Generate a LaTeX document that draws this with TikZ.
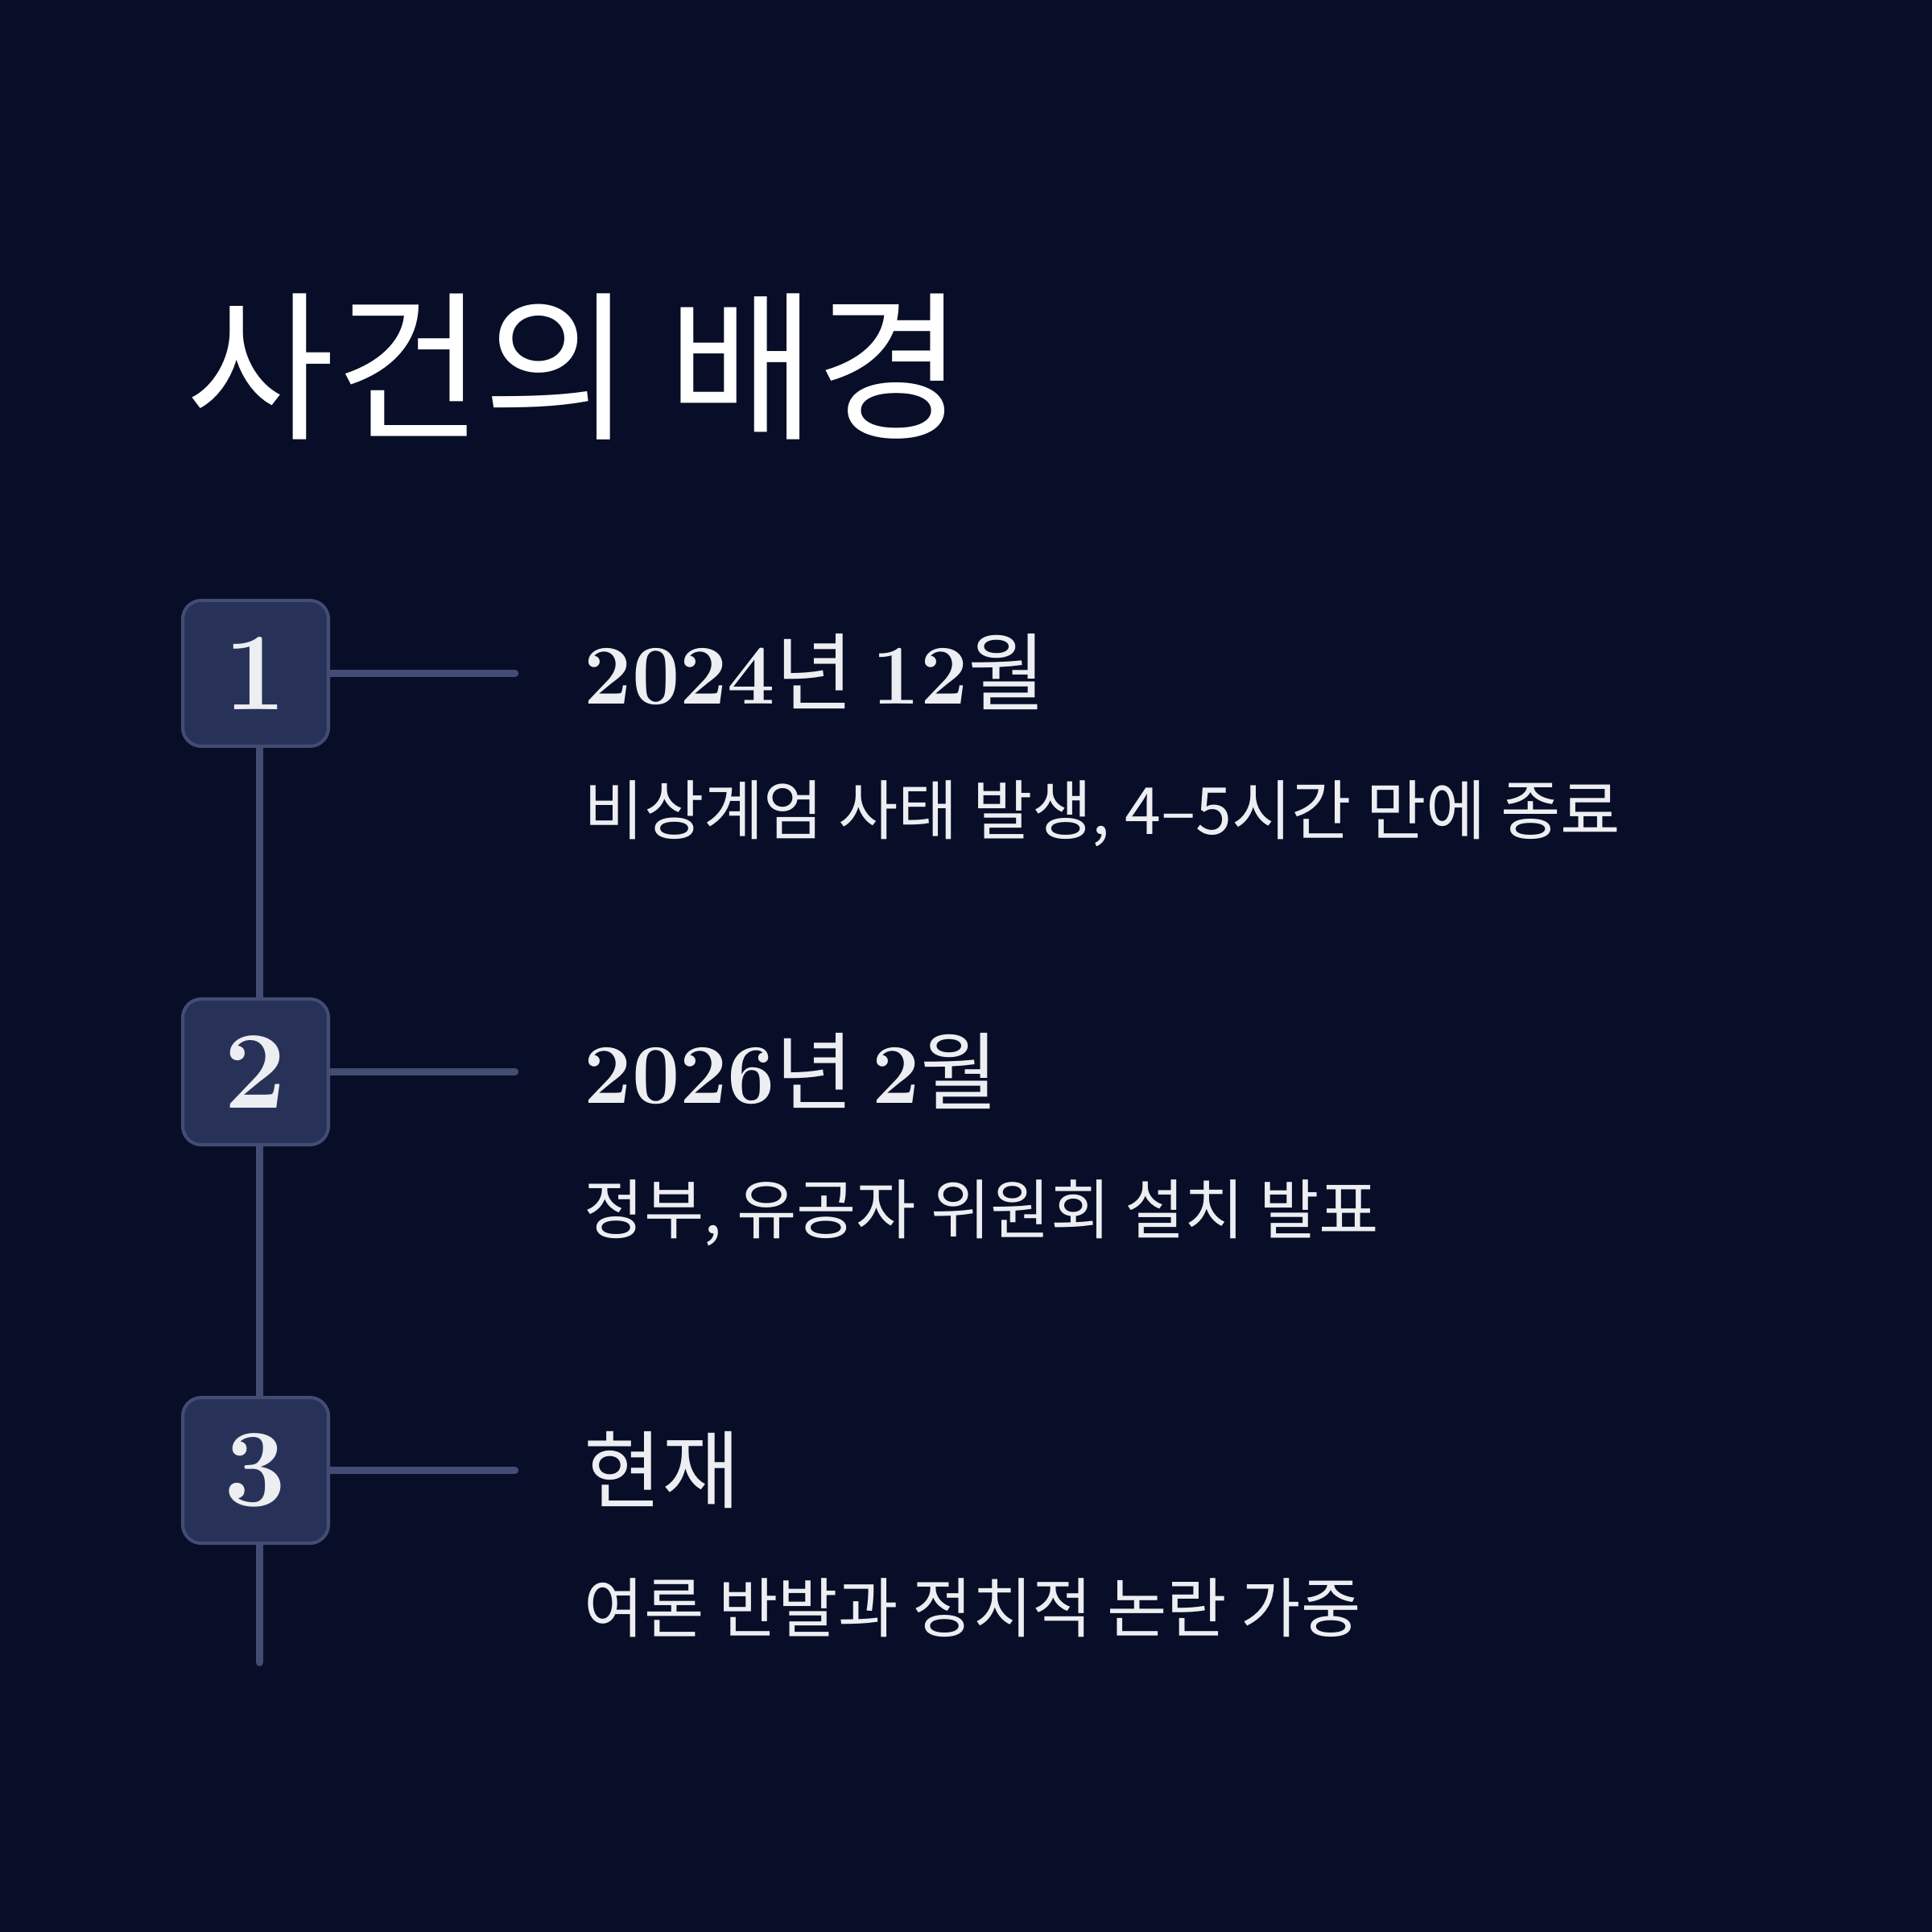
\documentclass[tikz,border=0pt]{standalone}
\usepackage{fontspec}
\newfontfamily\kr{Noto Sans CJK KR}
\usetikzlibrary{positioning}
\definecolor{bgnavy}{RGB}{8,14,39}
\definecolor{boxfill}{RGB}{40,50,89}
\definecolor{linegray}{RGB}{67,77,115}
\definecolor{textwhite}{RGB}{236,238,242}
\newcommand{\hg}[1]{{\kr\mdseries #1}}
\pgfdeclarelayer{back}
\pgfdeclarelayer{lines}
\pgfsetlayers{back,lines,main}
\tikzset{
  stepnum/.style={draw=linegray, line width=1.15pt, fill=boxfill, rounded corners=0.23cm,
    minimum size=1.81cm, inner sep=0pt, text=textwhite, font=\bfseries\fontsize{39}{39}\selectfont},
  timeline/.style={draw=linegray, line width=2.7pt, line cap=round},
  heading/.style={anchor=base west, inner sep=0pt, text=textwhite, font=\bfseries\fontsize{30}{30}\selectfont},
  desc/.style={anchor=base west, inner sep=0pt, text=textwhite, font=\kr\fontsize{23}{23}\selectfont}
}

\begin{document}
\begin{tikzpicture}
    \begin{pgfonlayer}{back}
        \fill[bgnavy] (0,0) rectangle (24,24);
    \end{pgfonlayer}
    \useasboundingbox (0,0) rectangle (24,24);

    % title
    \node[anchor=base west, inner sep=0pt, text=white, font=\kr\fontsize{57}{57}\selectfont] (title) at (2.31,18.69) {사건의 배경};

    % numbered steps
    \node[stepnum] (b1) at (3.175,15.635) {1};
    \node[stepnum, below=3.10cm of b1] (b2) {2};
    \node[stepnum, below=3.10cm of b2] (b3) {3};

    \coordinate[right=2.295cm of b1] (c1);
    \coordinate[right=2.295cm of b2] (c2);
    \coordinate[right=2.295cm of b3] (c3);
    \coordinate[below=1.46cm of b3] (tend);

    % timeline behind the boxes
    \begin{pgfonlayer}{lines}
        \draw[timeline] ([xshift=0.5mm]b1.center) -- ([xshift=0.5mm]tend);
        \draw[timeline] (b1.center) -- (c1);
        \draw[timeline] (b2.center) -- (c2);
        \draw[timeline] (b3.center) -- (c3);
    \end{pgfonlayer}

    % texts
    \node[heading] (h1) at ([xshift=3.15cm, yshift=-0.385cm]b1.east) {2024\hg{년 }12\hg{월}};
    \node[desc] (d1) at ([yshift=-1.62cm]h1.base west) {비상계엄 사태 발생, 4–5시간 만에 종료};

    \node[heading] (h2) at ([xshift=3.15cm, yshift=-0.385cm]b2.east) {2026\hg{년 }2\hg{월}};
    \node[desc] (d2) at ([yshift=-1.62cm]h2.base west) {정부, 유공자 위원회 설치 발표};

    \node[heading] (h3) at ([xshift=3.15cm, yshift=-0.385cm]b3.east) {\hg{현재}};
    \node[desc] (d3) at ([yshift=-1.62cm]h3.base west) {여론 반발과 정치적 논란 가중};
\end{tikzpicture}
\end{document}
